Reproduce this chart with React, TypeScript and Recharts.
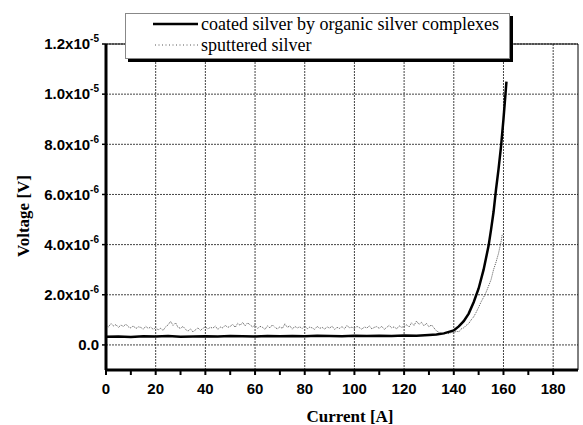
import {
  LineChart,
  Line,
  XAxis,
  YAxis,
  CartesianGrid,
  ReferenceLine,
  Legend,
} from "recharts";

// voltages are in units of 1e-6 V
const coatedCurrent = [
  0, 5, 10, 15, 20, 25, 30, 35, 40, 45, 50, 55, 60, 65, 70, 75, 80, 85, 90, 95,
  100, 105, 110, 115, 120, 125, 130, 133, 136, 138, 140, 142, 144, 146, 148,
  150, 152, 154, 155, 156, 157, 158, 159, 160, 160.8, 161.2,
];
const coatedVoltage = [
  0.33, 0.34, 0.32, 0.35, 0.34, 0.36, 0.33, 0.34, 0.35, 0.34, 0.36, 0.35, 0.34,
  0.36, 0.35, 0.36, 0.35, 0.37, 0.36, 0.35, 0.37, 0.36, 0.37, 0.36, 0.38, 0.37,
  0.4, 0.42, 0.46, 0.52, 0.58, 0.74, 0.95, 1.25, 1.7, 2.25, 3.0, 3.95, 4.6, 5.3,
  6.2, 7.0, 7.9, 9.0, 10.0, 10.5,
];

const sputteredCurrent = [
  0, 1, 2, 3, 4, 5, 6, 7, 8, 9, 10, 11, 12, 13, 14, 15, 16, 17, 18, 19, 20, 21,
  22, 23, 24, 25, 26, 27, 28, 29, 30, 31, 32, 33, 34, 35, 36, 37, 38, 39, 40,
  41, 42, 43, 44, 45, 46, 47, 48, 49, 50, 51, 52, 53, 54, 55, 56, 57, 58, 59,
  60, 61, 62, 63, 64, 65, 66, 67, 68, 69, 70, 71, 72, 73, 74, 75, 76, 77, 78,
  79, 80, 81, 82, 83, 84, 85, 86, 87, 88, 89, 90, 91, 92, 93, 94, 95, 96, 97,
  98, 99, 100, 101, 102, 103, 104, 105, 106, 107, 108, 109, 110, 111, 112, 113,
  114, 115, 116, 117, 118, 119, 120, 121, 122, 123, 124, 125, 126, 127, 128,
  129, 130, 131, 132, 133, 134, 135, 136, 137, 138, 139, 140, 141, 142, 143,
  144, 145, 146, 147, 148, 149, 150, 151, 152, 153, 154, 155, 156, 157, 158,
  159, 159.5,
];
const sputteredVoltage = [
  0.78, 0.72, 0.85, 0.76, 0.81, 0.7, 0.79, 0.74, 0.83, 0.72,
  0.68, 0.76, 0.65, 0.72, 0.7, 0.63, 0.74, 0.66, 0.71, 0.62,
  0.69, 0.6, 0.66, 0.58, 0.72, 0.8, 0.94, 0.78, 0.88, 0.7,
  0.66, 0.74, 0.62, 0.55, 0.64, 0.52, 0.6, 0.68, 0.58, 0.66,
  0.72, 0.64, 0.7, 0.67, 0.75, 0.62, 0.71, 0.68, 0.78, 0.7,
  0.74, 0.82, 0.7, 0.86, 0.78, 0.9, 0.76, 0.88, 0.8, 0.72,
  0.78, 0.66, 0.74, 0.7, 0.62, 0.76, 0.68, 0.8, 0.7, 0.64,
  0.72, 0.66, 0.84, 0.7, 0.76, 0.63, 0.74, 0.68, 0.72, 0.66,
  0.76, 0.64, 0.71, 0.68, 0.62, 0.74, 0.66, 0.7, 0.63, 0.72,
  0.67, 0.75, 0.62, 0.7, 0.66, 0.73, 0.64, 0.78, 0.68, 0.71,
  0.65, 0.74, 0.69, 0.62, 0.72, 0.67, 0.76, 0.64, 0.7, 0.73,
  0.66, 0.74, 0.62, 0.7, 0.78, 0.68, 0.72, 0.64, 0.76, 0.7,
  0.74, 0.8, 0.72, 0.88, 0.78, 0.95, 0.82, 0.9, 0.76, 0.86,
  0.72, 0.8, 0.68, 0.56, 0.5, 0.46, 0.44, 0.48, 0.45, 0.5,
  0.47, 0.55, 0.52, 0.64, 0.68, 0.78, 0.85, 1.0, 1.12, 1.3,
  1.5, 1.72, 1.9, 2.1, 2.35, 2.6, 3.0, 3.3, 3.65, 4.1, 4.4,
];

const seriesNames = ["coated silver by organic silver complexes", "sputtered silver"];

const xTicks = [0, 10, 20, 30, 40, 50, 60, 70, 80, 90, 100, 110, 120, 130, 140, 150, 160, 170, 180];
const xGrid = [20, 40, 60, 80, 100, 120, 140, 160, 180];
const yTicks = [0, 2, 4, 6, 8, 10, 12];
const yTickMantissa = ["0.0", "2.0x10", "4.0x10", "6.0x10", "8.0x10", "1.0x10", "1.2x10"];
const yTickExponent = ["", "-6", "-6", "-6", "-6", "-5", "-5"];

const coatedData = coatedCurrent.map((c, i) => ({ current: c, voltage: coatedVoltage[i] }));
const sputteredData = sputteredCurrent.map((c, i) => ({ current: c, voltage: sputteredVoltage[i] }));

const SANS = "'Liberation Sans', Arial, sans-serif";
const SERIF = "'Liberation Serif', 'Times New Roman', serif";

function XTick({ x, y, payload }: any) {
  if (payload.value % 20 !== 0) return <g />;
  return (
    <text x={x} y={y} dy="0.71em" textAnchor="middle" fontFamily={SANS} fontWeight="bold" fontSize={15} fill="#000">
      {payload.value}
    </text>
  );
}

function YTick({ x, y, payload }: any) {
  const i = yTicks.indexOf(payload.value);
  return (
    <text x={x} y={y} dy="0.35em" textAnchor="end" fontFamily={SANS} fontWeight="bold" fontSize={15} fill="#000">
      {yTickMantissa[i]}
      {yTickExponent[i] ? (
        <tspan dy={-7} fontSize={10}>
          {yTickExponent[i]}
        </tspan>
      ) : null}
    </text>
  );
}

function YTitle() {
  return (
    <text
      x={23}
      y={216}
      transform="rotate(-90 23 216)"
      textAnchor="middle"
      dominantBaseline="central"
      fontFamily={SERIF}
      fontWeight="bold"
      fontSize={17}
      fill="#000"
    >
      Voltage [V]
    </text>
  );
}

function XTitle() {
  return (
    <text x={350} y={422} textAnchor="middle" fontFamily={SERIF} fontWeight="bold" fontSize={17} fill="#000">
      Current [A]
    </text>
  );
}

function LegendBox() {
  return (
    <div
      style={{
        width: 385,
        height: 46,
        background: "#fff",
        border: "1px solid #888",
        boxShadow: "3px 3px 0 #000",
        boxSizing: "border-box",
      }}
    >
      <svg width={383} height={44} style={{ display: "block" }}>
        <line x1={27} x2={72} y1={10} y2={10} stroke="#000" strokeWidth={2.5} />
        <text x={75} y={16} fontFamily={SERIF} fontSize={18} fill="#000">
          {seriesNames[0]}
        </text>
        <line x1={29} x2={72} y1={31} y2={31} stroke="#555" strokeWidth={1} strokeDasharray="1 2.5" />
        <text x={75} y={37} fontFamily={SERIF} fontSize={18} fill="#000">
          {seriesNames[1]}
        </text>
      </svg>
    </div>
  );
}

export default function App() {
  return (
    <div style={{ position: "absolute", left: 0, top: 0, width: 583, height: 425, background: "#fff" }}>
      <LineChart width={583} height={425} margin={{ top: 44, right: 5, bottom: 25, left: 16 }}>
        <CartesianGrid vertical={false} stroke="#444" strokeDasharray="2 1" />
        {xGrid.map((v) => (
          <ReferenceLine key={v} x={v} stroke="#444" strokeDasharray="2 1" />
        ))}
        <ReferenceLine y={12} stroke="#000" strokeWidth={1} />
        <ReferenceLine x={190} stroke="#000" strokeWidth={1} />
        <XAxis
          dataKey="current"
          type="number"
          domain={[0, 190]}
          ticks={xTicks}
          interval={0}
          height={30}
          tickSize={5}
          tickMargin={8}
          axisLine={{ stroke: "#000", strokeWidth: 3 }}
          tickLine={{ stroke: "#000", strokeWidth: 2 }}
          tick={<XTick />}
          label={<XTitle />}
          allowDuplicatedCategory={false}
        />
        <YAxis
          dataKey="voltage"
          type="number"
          domain={[-1, 12]}
          ticks={yTicks}
          interval={0}
          width={90}
          tickSize={4}
          tickMargin={3}
          axisLine={{ stroke: "#000", strokeWidth: 3 }}
          tickLine={{ stroke: "#000", strokeWidth: 1.5 }}
          tick={<YTick />}
          label={<YTitle />}
        />
        <Legend
          layout="vertical"
          align="center"
          verticalAlign="middle"
          content={<LegendBox />}
          wrapperStyle={{ position: "absolute", left: 125, top: 13, width: 388, height: 49 }}
        />
        <Line
          data={sputteredData}
          dataKey="voltage"
          name={seriesNames[1]}
          type="linear"
          stroke="#555"
          strokeWidth={1}
          strokeDasharray="1 1"
          dot={false}
          isAnimationActive={false}
        />
        <Line
          data={coatedData}
          dataKey="voltage"
          name={seriesNames[0]}
          type="linear"
          stroke="#000"
          strokeWidth={2.5}
          dot={false}
          isAnimationActive={false}
        />
      </LineChart>
    </div>
  );
}
